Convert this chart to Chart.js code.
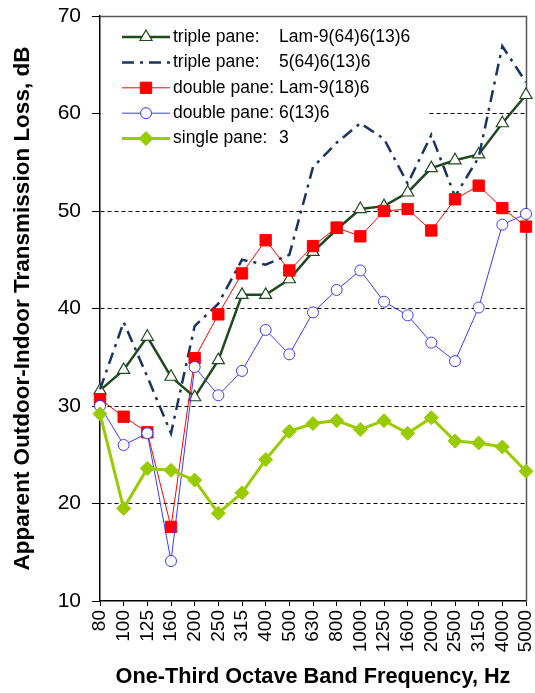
<!DOCTYPE html>
<html>
<head>
<meta charset="utf-8">
<script src="https://cdn.jsdelivr.net/npm/chart.js@4.4.1/dist/chart.umd.min.js"></script>
<style>
html,body{margin:0;padding:0;background:#fff;}
#wrap{width:535px;height:693px;position:relative;}
</style>
</head>
<body>
<div id="wrap"><canvas id="c" width="535" height="693"></canvas></div>
<script>
// ---- data ----
const frequencies = ['80','100','125','160','200','250','315','400','500','630','800','1000','1250','1600','2000','2500','3150','4000','5000'];
const legendLead = ['triple pane:', 'triple pane:', 'double pane:', 'double pane:', 'single pane:'];
const legendSpec = ['Lam-9(64)6(13)6', '5(64)6(13)6', 'Lam-9(18)6', '6(13)6', '3'];
const tripleLam = [31.6, 33.7, 37.1, 33.0, 30.9, 34.7, 41.4, 41.4, 43.0, 45.8, 48.1, 50.2, 50.5, 51.9, 54.4, 55.2, 55.8, 59.0, 61.9];
const triple5   = [31.7, 38.6, 33.0, 27.2, 38.2, 40.5, 45.0, 44.5, 45.5, 54.5, 57.0, 59.0, 57.4, 52.8, 57.8, 51.5, 55.5, 66.9, 63.2];
const doubleLam = [30.7, 28.9, 27.3, 17.6, 34.9, 39.4, 43.6, 47.0, 43.9, 46.4, 48.3, 47.4, 50.0, 50.2, 48.0, 51.2, 52.6, 50.3, 48.4];
const double6   = [30.0, 26.0, 27.2, 14.1, 34.0, 31.1, 33.6, 37.8, 35.3, 39.6, 41.9, 43.9, 40.7, 39.3, 36.5, 34.6, 40.1, 48.6, 49.7];
const single3   = [29.2, 19.5, 23.6, 23.4, 22.4, 19.0, 21.1, 24.5, 27.4, 28.2, 28.5, 27.6, 28.5, 27.2, 28.8, 26.4, 26.2, 25.8, 23.3];
const yTicksMin = 10, yTicksMax = 70, yStep = 10;
const xTitle = 'One-Third Octave Band Frequency, Hz';
const yTitle = 'Apparent Outdoor-Indoor Transmission Loss, dB';

const FAM = '"Liberation Sans", Arial, Helvetica, sans-serif';

const seriesValues = [tripleLam, triple5, doubleLam, double6, single3];
const styles = [
  {borderColor:'#1f4a1f', borderWidth:2.5, borderDash:[], pointStyle:'triangle', pointRadius:7, pointBackgroundColor:'#ffffff', pointBorderColor:'#1f4a1f', pointBorderWidth:1.2},
  {borderColor:'#19355f', borderWidth:2.5, borderDash:[12,6,3,6], pointStyle:'circle', pointRadius:0, pointBackgroundColor:'#19355f', pointBorderColor:'#19355f', pointBorderWidth:0},
  {borderColor:'#ff0000', borderWidth:1, borderDash:[], pointStyle:'rect', pointRadius:8, pointBackgroundColor:'#ff0000', pointBorderColor:'#ff0000', pointBorderWidth:1},
  {borderColor:'#3b3bff', borderWidth:1, borderDash:[], pointStyle:'circle', pointRadius:5.5, pointBackgroundColor:'#ffffff', pointBorderColor:'#3b3bff', pointBorderWidth:1},
  {borderColor:'#99cc00', borderWidth:3, borderDash:[], pointStyle:'rectRot', pointRadius:7, pointBackgroundColor:'#99cc00', pointBorderColor:'#99cc00', pointBorderWidth:1}
];

const datasets = seriesValues.map((vals, i) => Object.assign({
  label: legendLead[i] + ' ' + legendSpec[i],
  data: vals,
  fill: false,
  tension: 0,
  order: 10 - i,
  pointHoverRadius: styles[i].pointRadius
}, styles[i]));

function drawMarker(ctx, st, x, y) {
  if (!st.pointRadius) return;
  ctx.save();
  ctx.setLineDash([]);
  ctx.fillStyle = st.pointBackgroundColor;
  ctx.strokeStyle = st.pointBorderColor;
  ctx.lineWidth = st.pointBorderWidth;
  Chart.helpers.drawPoint(ctx, {pointStyle: st.pointStyle, radius: st.pointRadius, borderWidth: st.pointBorderWidth, rotation: 0}, x, y);
  ctx.restore();
}

const insideLegend = {
  id: 'insideLegend',
  beforeDatasetsDraw(chart) {
    const {ctx, chartArea: a} = chart;
    ctx.save();
    // legend box (white, under the series)
    ctx.fillStyle = '#ffffff';
    ctx.fillRect(a.left + 1, a.top + 1, 326, 134);
    // plot frame (top and right)
    ctx.strokeStyle = '#555555';
    ctx.lineWidth = 1.5;
    ctx.beginPath();
    ctx.moveTo(a.left, a.top + 0.5);
    ctx.lineTo(a.right + 0.5, a.top + 0.5);
    ctx.lineTo(a.right + 0.5, a.bottom);
    ctx.stroke();
    // entries
    ctx.font = '17.5px ' + FAM;
    ctx.textBaseline = 'middle';
    ctx.textAlign = 'left';
    styles.forEach((st, i) => {
      const y = a.top + 21 + i * 25.4;
      const x0 = a.left + 22, x1 = a.left + 70;
      ctx.save();
      ctx.strokeStyle = st.borderColor;
      ctx.lineWidth = st.borderWidth;
      ctx.setLineDash(st.borderDash);
      ctx.beginPath();
      ctx.moveTo(x0, y);
      ctx.lineTo(x1, y);
      ctx.stroke();
      ctx.restore();
      drawMarker(ctx, st, (x0 + x1) / 2, y);
      ctx.fillStyle = '#000';
      ctx.fillText(legendLead[i], a.left + 73, y);
      ctx.fillText(legendSpec[i], a.left + 179, y);
    });
    ctx.restore();
  }
};

new Chart(document.getElementById('c'), {
  type: 'line',
  data: { labels: frequencies, datasets: datasets },
  plugins: [insideLegend],
  options: {
    responsive: false,
    animation: false,
    devicePixelRatio: 1,
    layout: { padding: { top: 16, right: 2, left: 0, bottom: 0 } },
    plugins: { legend: { display: false }, tooltip: { enabled: false } },
    scales: {
      x: {
        type: 'category',
        offset: false,
        grid: { drawOnChartArea: false, drawTicks: true, tickLength: 5, tickColor: '#000', tickWidth: 1 },
        border: { color: '#000', width: 1.5 },
        ticks: { autoSkip: false, maxRotation: 90, minRotation: 90, color: '#000', font: { family: FAM, size: 19 }, padding: 4 },
        title: { display: true, text: xTitle, color: '#000', font: { family: FAM, size: 21.7, weight: 'bold' }, padding: { top: 0, bottom: 3 } },
        afterFit(s) { s.height = 92; s.paddingLeft = 0; s.paddingRight = 0; }
      },
      y: {
        min: yTicksMin,
        max: yTicksMax,
        ticks: { stepSize: yStep, color: '#000', font: { family: FAM, size: 21 }, padding: 11 },
        grid: {
          color: (c) => (c.tick && (c.tick.value === yTicksMin || c.tick.value === yTicksMax)) ? 'rgba(0,0,0,0)' : '#000',
          lineWidth: 1, tickLength: 8, tickColor: '#000', tickWidth: 1
        },
        border: { color: '#000', width: 1.5, dash: [4, 3] },
        title: { display: true, text: yTitle, color: '#000', font: { family: FAM, size: 22.5, weight: 'bold' }, padding: { top: 9, bottom: 0 } },
        afterFit(s) { s.width = 100; s.paddingTop = 0; s.paddingBottom = 0; }
      }
    }
  }
});
</script>
</body>
</html>
